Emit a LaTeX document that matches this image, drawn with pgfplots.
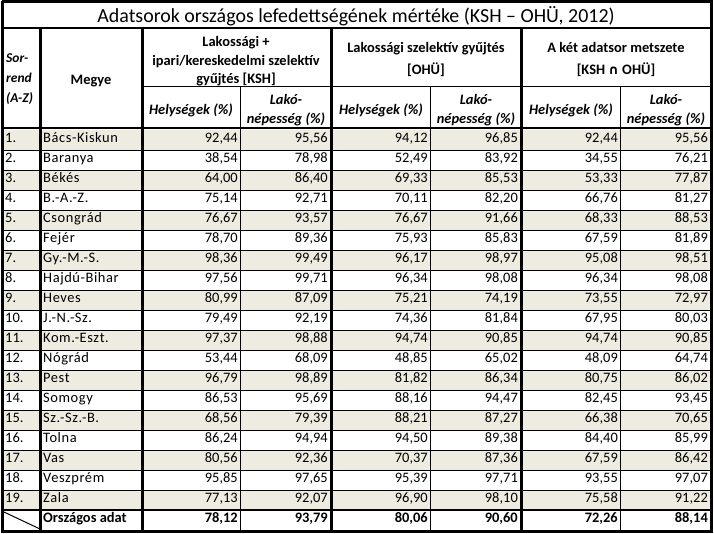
\documentclass[border=0pt]{standalone}
\usepackage{fontspec}
\setmainfont{Carlito}
\newfontfamily\dejavu{DejaVu Sans}
\newfontfamily\spaced[LetterSpace=4]{Carlito}
\usepackage{pgfplots}
\usepackage{pgfplotstable}
\pgfplotsset{compat=1.18}
\definecolor{rowbg}{RGB}{238,236,225}

% county rows: order, label, name, KSH (helys., lako), OHU (helys., lako), metszet (helys., lako)
\pgfplotstableread[col sep=semicolon]{
r;n;name;a;b;c;d;e;f
1;1.;Bács-Kiskun;92,44;95,56;94,12;96,85;92,44;95,56
2;2.;Baranya;38,54;78,98;52,49;83,92;34,55;76,21
3;3.;Békés;64,00;86,40;69,33;85,53;53,33;77,87
4;4.;B.-A.-Z.;75,14;92,71;70,11;82,20;66,76;81,27
5;5.;Csongrád;76,67;93,57;76,67;91,66;68,33;88,53
6;6.;Fejér;78,70;89,36;75,93;85,83;67,59;81,89
7;7.;Gy.-M.-S.;98,36;99,49;96,17;98,97;95,08;98,51
8;8.;Hajdú-Bihar;97,56;99,71;96,34;98,08;96,34;98,08
9;9.;Heves;80,99;87,09;75,21;74,19;73,55;72,97
10;10.;J.-N.-Sz.;79,49;92,19;74,36;81,84;67,95;80,03
11;11.;Kom.-Eszt.;97,37;98,88;94,74;90,85;94,74;90,85
12;12.;Nógrád;53,44;68,09;48,85;65,02;48,09;64,74
13;13.;Pest;96,79;98,89;81,82;86,34;80,75;86,02
14;14.;Somogy;86,53;95,69;88,16;94,47;82,45;93,45
15;15.;Sz.-Sz.-B.;68,56;79,39;88,21;87,27;66,38;70,65
16;16.;Tolna;86,24;94,94;94,50;89,38;84,40;85,99
17;17.;Vas;80,56;92,36;70,37;87,36;67,59;86,42
18;18.;Veszprém;95,85;97,65;95,39;97,71;93,55;97,07
19;19.;Zala;77,13;92,07;96,90;98,10;75,58;91,22
}\megyek

\pgfplotstableread[col sep=semicolon]{
r;name;a;b;c;d;e;f
20;Országos adat;78,12;93,79;80,06;90,60;72,26;88,14
}\orszagos

\newcommand\cellfont{\fontsize{14.5}{17}\selectfont}
\pgfplotsset{
  celltext/.style={only marks, mark=*, mark size=0pt,
    mark options={draw=none,fill=none},
    point meta=explicit symbolic, nodes near coords,
    nodes near coords style={anchor=#1, inner sep=0pt, text=black, font=\cellfont}},
}

\begin{document}
\begin{tikzpicture}
\begin{axis}[width=714bp,height=534bp,scale only axis,
  xmin=0,xmax=714,ymin=0,ymax=534,y dir=reverse,
  hide axis,clip=false]
% background and shaded rows
\addplot[fill=white,draw=none] coordinates {(0,0)(714,0)(714,534)(0,534)};
\pgfplotsinvokeforeach{140,180,...,500}{
  \addplot[rowbg,line width=20bp] coordinates {(2,#1)(711,#1)};
}
% thin row lines
\pgfplotsinvokeforeach{150,170,...,490}{
  \addplot[black,line width=1bp] coordinates {(2,#1)(711,#1)};
}
\addplot[black,line width=1.5bp] coordinates {(2,510)(711,510)};
% thin column lines and group line
\addplot[black,line width=1bp] coordinates {(142,87)(711,87)};
\pgfplotsinvokeforeach{240,430,620}{
  \addplot[black,line width=1bp] coordinates {(#1,87)(#1,531)};
}
% thick column lines
\pgfplotsinvokeforeach{40,142,331,521}{
  \addplot[black,line width=3bp] coordinates {(#1,28)(#1,531)};
}
\addplot[black,line width=2bp] coordinates {(2,28)(711,28)};
\addplot[black,line width=2.5bp] coordinates {(2,128)(711,128)};
\addplot[black,line width=3bp] coordinates {(2,1.5)(711.5,1.5)(711.5,531.5)(2,531.5)(2,1.5)};
\addplot[black,line width=1bp] coordinates {(4,512)(40,529)};

% title and headers
\node[anchor=base,inner sep=0pt,font=\fontsize{20}{23}\selectfont] at (axis cs:356,23)
  {Adatsorok országos lefedettségének mértéke (KSH – OHÜ, 2012)};
\begin{scope}[every node/.style={font=\cellfont\bfseries,anchor=base,inner sep=0pt}]
\node[anchor=base west,font=\fontsize{13.5}{15}\selectfont\bfseries\itshape] at (axis cs:6,63) {Sor-};
\node[anchor=base west,font=\fontsize{13.5}{15}\selectfont\bfseries\itshape] at (axis cs:6,83) {rend};
\node[anchor=base west,font=\fontsize{13.5}{15}\selectfont\bfseries\itshape] at (axis cs:6,102) {(A-Z)};
\node at (axis cs:91,85) {Megye};
\node at (axis cs:236,47) {Lakossági +};
\node at (axis cs:236,66) {ipari/kereskedelmi szelektív};
\node at (axis cs:236,84) {gyűjtés [KSH]};
\node at (axis cs:426,53) {Lakossági szelektív gyűjtés};
\node at (axis cs:426,75) {[OHÜ]};
\node at (axis cs:616,53) {A két adatsor metszete};
\node at (axis cs:616,75) {[KSH {\dejavu\fontsize{13}{15}\selectfont ∩} OHÜ]};
\end{scope}
\begin{scope}[every node/.style={font=\cellfont\bfseries\itshape,anchor=base,inner sep=0pt}]
\pgfplotsinvokeforeach{191,381,571}{
  \node at (axis cs:#1,114) {Helységek (\%)};
}
\pgfplotsinvokeforeach{286,476,666}{
  \node at (axis cs:#1,104) {Lakó-};
  \node at (axis cs:#1,123) {népesség (\%)};
}
\end{scope}

% county rows
\addplot[celltext=base west] table[x expr=5,y expr=122+20*\thisrow{r},meta=n] {\megyek};
\addplot[celltext=base west,nodes near coords style={font=\cellfont\spaced}]
  table[x expr=43,y expr=122+20*\thisrow{r},meta=name] {\megyek};
\addplot[celltext=base east] table[x expr=238,y expr=122+20*\thisrow{r},meta=a] {\megyek};
\addplot[celltext=base east] table[x expr=328,y expr=122+20*\thisrow{r},meta=b] {\megyek};
\addplot[celltext=base east] table[x expr=428,y expr=122+20*\thisrow{r},meta=c] {\megyek};
\addplot[celltext=base east] table[x expr=518,y expr=122+20*\thisrow{r},meta=d] {\megyek};
\addplot[celltext=base east] table[x expr=618,y expr=122+20*\thisrow{r},meta=e] {\megyek};
\addplot[celltext=base east] table[x expr=708,y expr=122+20*\thisrow{r},meta=f] {\megyek};
% national total
\pgfplotsset{boldcell/.style={celltext=#1,nodes near coords style={font=\cellfont\bfseries}}}
\addplot[boldcell=base west] table[x expr=43,y expr=122+20*\thisrow{r},meta=name] {\orszagos};
\addplot[boldcell=base east] table[x expr=238,y expr=122+20*\thisrow{r},meta=a] {\orszagos};
\addplot[boldcell=base east] table[x expr=328,y expr=122+20*\thisrow{r},meta=b] {\orszagos};
\addplot[boldcell=base east] table[x expr=428,y expr=122+20*\thisrow{r},meta=c] {\orszagos};
\addplot[boldcell=base east] table[x expr=518,y expr=122+20*\thisrow{r},meta=d] {\orszagos};
\addplot[boldcell=base east] table[x expr=618,y expr=122+20*\thisrow{r},meta=e] {\orszagos};
\addplot[boldcell=base east] table[x expr=708,y expr=122+20*\thisrow{r},meta=f] {\orszagos};
\end{axis}
\pgfresetboundingbox
\path (current axis.south west) rectangle (current axis.north east);
\end{tikzpicture}
\end{document}
